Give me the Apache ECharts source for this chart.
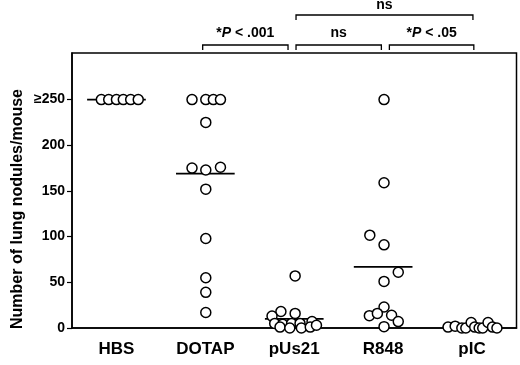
<!DOCTYPE html>
<html>
<head>
<meta charset="utf-8">
<script src="https://cdn.jsdelivr.net/npm/echarts@6/dist/echarts.min.js"></script>
<style>
html,body{margin:0;padding:0;background:#fff;}
#chart{width:520px;height:365px;}
</style>
</head>
<body>
<div id="chart"></div>
<script>
// ---- data ----
const categories = ['HBS', 'DOTAP', 'pUs21', 'R848', 'pIC'];

const hbsValues   = [250, 250, 250, 250, 250, 250];
const hbsJitter   = [-0.17, -0.087, 0, 0.077, 0.16, 0.245];

const dotapValues = [250, 250, 250, 250, 225, 175, 173, 176, 152, 98, 55, 39, 17];
const dotapJitter = [-0.15, 0.005, 0.09, 0.17, 0.005, -0.15, 0.005, 0.17, 0.005, 0.005, 0.005, 0.005, 0.005];

const pus21Values = [57, 18, 16, 13, 5, 4, 5, 5, 7, 1, 0, 0, 1, 3];
const pus21Jitter = [0.01, -0.15, 0.01, -0.25, -0.22, -0.13, -0.03, 0.065, 0.2, -0.16, -0.05, 0.08, 0.18, 0.25];

const r848Values  = [250, 159, 101.6, 91, 61, 51, 23, 13.5, 16, 14, 7, 1.5];
const r848Jitter  = [0.01, 0.01, -0.15, 0.01, 0.17, 0.01, 0.01, -0.155, -0.065, 0.095, 0.17, 0.01];

const picValues   = [1, 2, 0, 0, 6, 1, 0, 0, 6, 1, 0];
const picJitter   = [-0.27, -0.19, -0.115, -0.07, -0.01, 0.03, 0.08, 0.12, 0.18, 0.23, 0.28];

const meanValues  = [250, 169, 10, 67, 1];

const yTickValues = [0, 50, 100, 150, 200, 250];
const yTickLabels = ['0', '50', '100', '150', '200', '\u2265250'];

const comparisons = [
  { a: 'DOTAP', b: 'pUs21', label: '*P < .001', level: 0 },
  { a: 'pUs21', b: 'R848',  label: 'ns',        level: 0 },
  { a: 'R848',  b: 'pIC',   label: '*P < .05',  level: 0 },
  { a: 'pUs21', b: 'pIC',   label: 'ns',        level: 1 }
];
// ---------------------------------------

const groups = [
  [hbsValues, hbsJitter], [dotapValues, dotapJitter], [pus21Values, pus21Jitter],
  [r848Values, r848Jitter], [picValues, picJitter]
];
const points = [];
groups.forEach(function (g, i) {
  g[0].forEach(function (v, k) { points.push([i + 1 + g[1][k], v]); });
});
const meanData = meanValues.map(function (m, i) { return [i + 1, m]; });

const FONT = '"Liberation Sans", Arial, Helvetica, sans-serif';
const chart = echarts.init(document.getElementById('chart'), null, { renderer: 'canvas' });

const option = {
  animation: false,
  backgroundColor: '#fff',
  grid: { left: 72, right: 3.5, top: 53, bottom: 37, show: true, borderColor: '#000', borderWidth: 1.5, backgroundColor: 'transparent' },
  xAxis: {
    type: 'value', min: 0.5, max: 5.5,
    splitLine: { show: false },
    axisLine: { show: true, lineStyle: { color: '#000', width: 1.5 } },
    axisTick: { show: false },
    axisLabel: {
      customValues: [1, 2, 3, 4, 5],
      formatter: function (v) { return categories[Math.round(v) - 1] || ''; },
      color: '#000', fontFamily: FONT, fontWeight: 'bold', fontSize: 17, margin: 13
    }
  },
  yAxis: {
    type: 'value', min: 0, max: 301,
    splitLine: { show: false },
    axisLine: { show: true, lineStyle: { color: '#000', width: 1.5 } },
    axisTick: { show: true, customValues: yTickValues, length: 5, lineStyle: { color: '#000', width: 1.2 } },
    axisLabel: {
      customValues: yTickValues,
      formatter: function (v) { const i = yTickValues.indexOf(v); return i >= 0 ? yTickLabels[i] : ''; },
      color: '#000', fontFamily: FONT, fontWeight: 'bold', fontSize: 14, margin: 7
    }
  },
  series: [
    {
      type: 'custom',
      data: meanData,
      z: 2,
      renderItem: function (params, api) {
        const x = api.value(0), y = api.value(1);
        const p1 = api.coord([x - 0.33, y]);
        const p2 = api.coord([x + 0.33, y]);
        return { type: 'line', shape: { x1: p1[0], y1: p1[1], x2: p2[0], y2: p2[1] }, style: { stroke: '#000', lineWidth: 1.8 } };
      }
    },
    {
      type: 'scatter',
      data: points,
      z: 3,
      symbol: 'circle',
      symbolSize: 10,
      itemStyle: { color: '#fff', borderColor: '#000', borderWidth: 1.5, opacity: 1 }
    }
  ]
};
chart.setOption(option);

// significance brackets and y-axis title
const gapL = { 'DOTAP-pUs21': -0.03, 'pUs21-R848': 0.02, 'R848-pIC': 0.07, 'pUs21-pIC': 0.02 };
const gapR = { 'DOTAP-pUs21': -0.07, 'pUs21-R848': -0.02, 'R848-pIC': 0.02, 'pUs21-pIC': 0.01 };
const graphics = [];
comparisons.forEach(function (c) {
  const key = c.a + '-' + c.b;
  const xa = chart.convertToPixel({ gridIndex: 0 }, [categories.indexOf(c.a) + 1 + gapL[key], 0])[0];
  const xb = chart.convertToPixel({ gridIndex: 0 }, [categories.indexOf(c.b) + 1 + gapR[key], 0])[0];
  const yTop = c.level === 0 ? 45 : 15;
  const yLeg = yTop + 5;
  graphics.push({
    type: 'polyline',
    shape: { points: [[xa, yLeg], [xa, yTop], [xb, yTop], [xb, yLeg]] },
    style: { stroke: '#000', lineWidth: 1.3, fill: null }
  });
  const parts = c.label.split('P');
  let rt;
  if (parts.length === 2) {
    rt = '{n|' + parts[0] + '}{i|P}{n|' + parts[1] + '}';
  } else {
    rt = '{n|' + c.label + '}';
  }
  graphics.push({
    type: 'text',
    x: (xa + xb) / 2,
    y: c.level === 0 ? 33 : 5,
    style: {
      text: rt,
      align: 'center', verticalAlign: 'middle',
      rich: {
        n: { fontFamily: FONT, fontWeight: 'bold', fontSize: 14, fill: '#000' },
        i: { fontFamily: FONT, fontWeight: 'bold', fontStyle: 'italic', fontSize: 14, fill: '#000' }
      }
    }
  });
});
graphics.push({
  type: 'text',
  x: 18, y: 209,
  rotation: Math.PI / 2,
  style: {
    text: 'Number of lung nodules/mouse',
    align: 'center', verticalAlign: 'middle',
    fontFamily: FONT, fontWeight: 'bold', fontSize: 16, fill: '#000'
  }
});
chart.setOption({ graphic: graphics });
</script>
</body>
</html>
